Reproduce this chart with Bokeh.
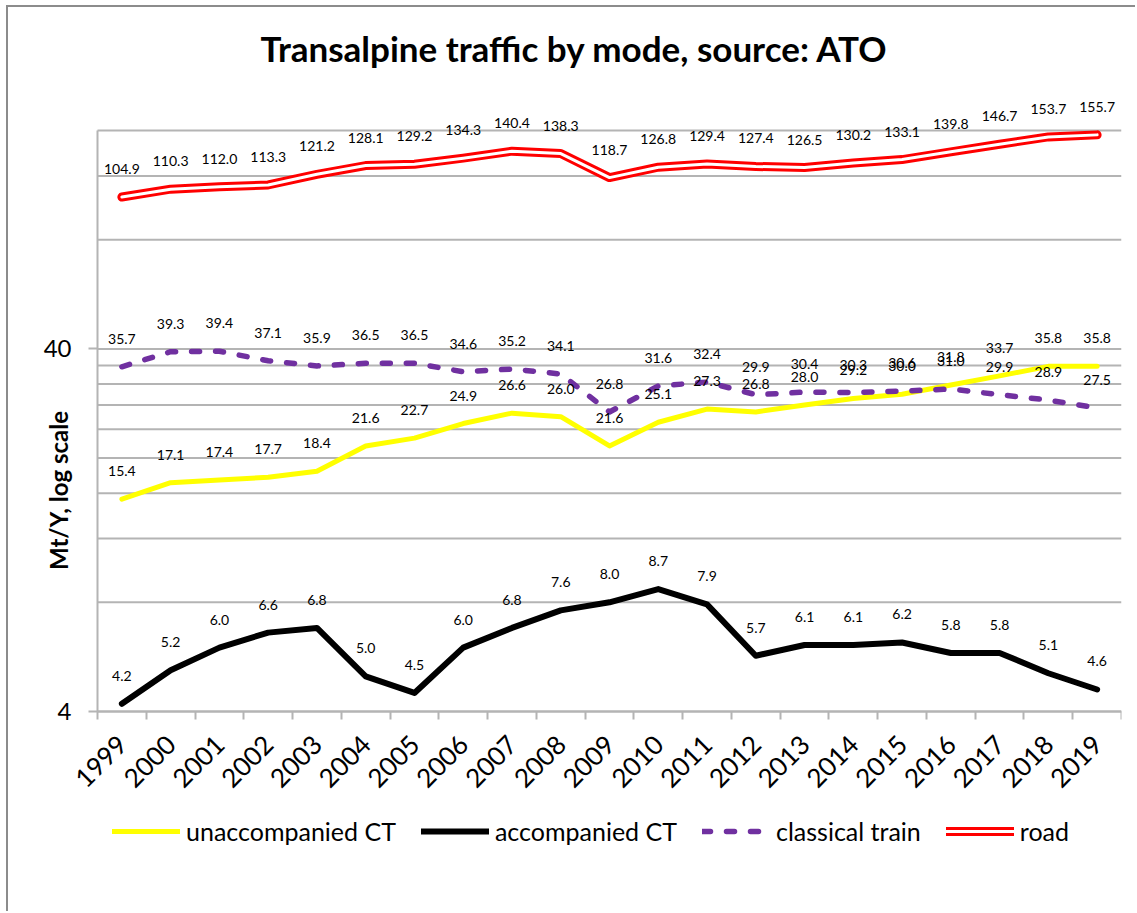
import math
from bokeh.plotting import figure
from bokeh.models import (Range1d, FixedTicker, PrintfTickFormatter, Label,
                          Legend, LegendItem, ColumnDataSource)
from bokeh.core.properties import value
from bokeh.embed import file_html
from bokeh.resources import INLINE

years = [str(y) for y in range(1999, 2020)]
unaccompanied = [15.4, 17.1, 17.4, 17.7, 18.4, 21.6, 22.7, 24.9, 26.6, 26.0, 21.6,
                 25.1, 27.3, 26.8, 28.0, 29.2, 30.0, 31.8, 33.7, 35.8, 35.8]
accompanied = [4.2, 5.2, 6.0, 6.6, 6.8, 5.0, 4.5, 6.0, 6.8, 7.6, 8.0,
               8.7, 7.9, 5.7, 6.1, 6.1, 6.2, 5.8, 5.8, 5.1, 4.6]
classical = [35.7, 39.3, 39.4, 37.1, 35.9, 36.5, 36.5, 34.6, 35.2, 34.1, 26.8,
             31.6, 32.4, 29.9, 30.4, 30.3, 30.6, 31.0, 29.9, 28.9, 27.5]
road = [104.9, 110.3, 112.0, 113.3, 121.2, 128.1, 129.2, 134.3, 140.4, 138.3, 118.7,
        126.8, 129.4, 127.4, 126.5, 130.2, 133.1, 139.8, 146.7, 153.7, 155.7]
y_ticks = [4, 40]
y_grid = [4, 8, 12, 16, 20, 24, 28, 32, 36, 40, 80, 120, 160]

idx = list(range(len(years)))
FONT = "Lato"
GRID = "#b4b4b4"
Y_MIN, Y_MAX = y_ticks[0], y_grid[-1]
X_LO, X_HI = idx[0] - 0.5, idx[-1] + 0.5

# The frame covers the whole canvas; axes are pinned inside it so that
# titles, tick labels and the legend are never clipped.
p = figure(width=1129, height=906, y_axis_type="log", title=None,
           x_range=Range1d(X_LO - 1.825, X_HI), y_range=Range1d(1.109, 349.6),
           output_backend="svg", toolbar_location=None,
           min_border_left=0, min_border_right=16, min_border_top=0,
           min_border_bottom=0)
p.styles = {"border-top": "2px solid #8c8c8c", "border-left": "2px solid #8c8c8c",
            "margin-left": "6px", "margin-top": "5px"}
p.outline_line_color = None
p.background_fill_color = "white"
p.xgrid.visible = False
p.ygrid.visible = False

# horizontal gridlines limited to the plot area
p.segment(x0=[X_LO] * len(y_grid), x1=[X_HI] * len(y_grid), y0=y_grid, y1=y_grid,
          line_color=GRID, line_width=2, level="underlay")

# x axis (drawn at y = 4)
xa = p.xaxis[0]
xa.fixed_location = Y_MIN
xa.bounds = (X_LO, X_HI)
xa.ticker = FixedTicker(ticks=idx, minor_ticks=[i - 0.5 for i in range(len(years) + 1)])
xa.major_label_overrides = {i: years[i] for i in idx}
xa.major_label_orientation = math.pi / 4
xa.major_tick_line_color = None
xa.minor_tick_in = 0
xa.minor_tick_out = 8
xa.minor_tick_line_color = GRID
xa.minor_tick_line_width = 2
xa.axis_line_color = GRID
xa.axis_line_width = 2
xa.major_label_text_font = FONT
xa.major_label_text_font_size = "26px"
xa.major_label_text_color = "black"
xa.major_label_standoff = 20

# y axis (drawn at the left edge of the plot area)
ya = p.yaxis[0]
ya.fixed_location = X_LO
ya.bounds = (Y_MIN, Y_MAX)
ya.ticker = FixedTicker(ticks=y_ticks)
ya.formatter = PrintfTickFormatter(format="%d")
ya.major_tick_in = 0
ya.major_tick_out = 9
ya.major_tick_line_color = GRID
ya.major_tick_line_width = 2
ya.minor_tick_line_color = None
ya.axis_line_color = GRID
ya.axis_line_width = 2
ya.major_label_text_font = FONT
ya.major_label_text_font_size = "24px"
ya.major_label_text_color = "black"
ya.major_label_standoff = 17

# series
r_un = p.line(idx, unaccompanied, line_color="#FFFF00", line_width=5,
              line_cap="round", line_join="round")
r_ac = p.line(idx, accompanied, line_color="black", line_width=6,
              line_cap="round", line_join="round")
r_cl = p.line(idx, classical, line_color="#7030A0", line_width=5.5,
              line_dash="8 16", line_cap="round", line_join="round")
r_rd1 = p.line(idx, road, line_color="#FF0000", line_width=9,
               line_cap="round", line_join="round")
r_rd2 = p.line(idx, road, line_color="white", line_width=3,
               line_cap="round", line_join="round")

# data labels
for vals in (unaccompanied, accompanied, classical, road):
    src = ColumnDataSource(dict(x=idx, y=vals, t=[f"{v:.1f}" for v in vals]))
    p.text(x="x", y="y", text="t", source=src, text_font=value(FONT),
           text_font_size="14px", text_align="center", text_baseline="middle",
           y_offset=-28, text_color="black")

# chart title and y-axis title
p.add_layout(Label(x=566, y=866, x_units="screen", y_units="screen",
                   text="Transalpine traffic by mode, source: ATO",
                   text_font=FONT, text_font_style="bold", text_font_size="35px",
                   text_align="center", text_baseline="middle", text_color="black"))
p.add_layout(Label(x=50, y=423, x_units="screen", y_units="screen",
                   angle=math.pi / 2, text="Mt/Y, log scale",
                   text_font=FONT, text_font_style="bold", text_font_size="24px",
                   text_align="center", text_baseline="middle", text_color="black"))

legend = Legend(items=[
    LegendItem(label="unaccompanied CT", renderers=[r_un]),
    LegendItem(label="accompanied CT", renderers=[r_ac]),
    LegendItem(label="classical train", renderers=[r_cl]),
    LegendItem(label="road", renderers=[r_rd1, r_rd2]),
], orientation="horizontal", location=(104, 67), glyph_width=68, glyph_height=30,
    label_height=30, label_standoff=6, spacing=25, padding=0, margin=0,
    border_line_color=None, background_fill_alpha=0,
    label_text_font=FONT, label_text_font_size="25px", label_text_color="black")
p.add_layout(legend)

open("out.html", "w").write(file_html(p, INLINE))
